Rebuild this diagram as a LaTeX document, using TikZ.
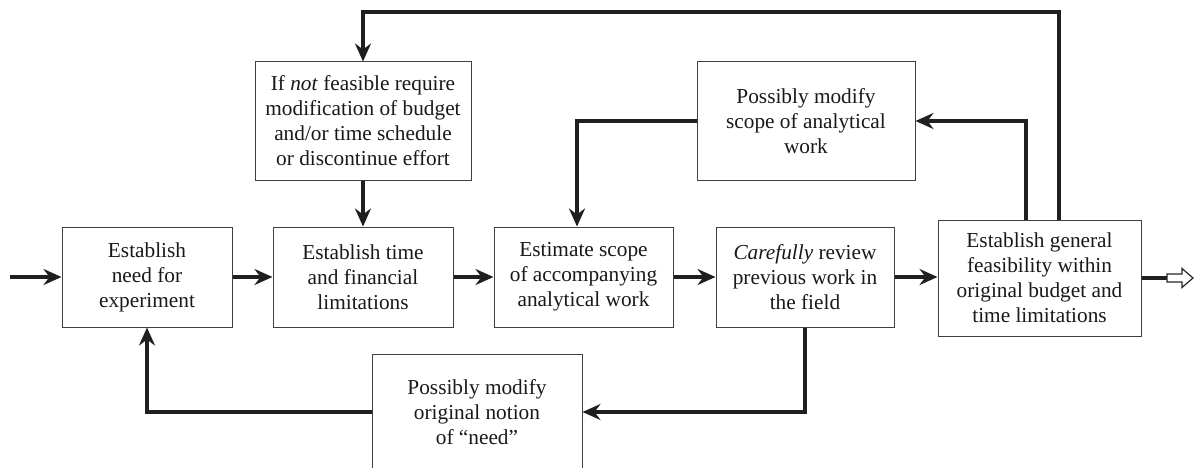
\documentclass[tikz,border=0pt]{standalone}
\usepackage{fontspec}
\setmainfont{Liberation Serif}
\usetikzlibrary{arrows.meta}
\begin{document}
\begin{tikzpicture}[x=1pt,y=-1pt,
  box/.style={draw=black!75,line width=1pt,fill=white,align=center,inner sep=2pt,
    font=\fontsize{21.3}{25}\selectfont,text=black!90},
  arr/.style={line width=3.5pt,draw=black!88,-{Stealth[length=18pt,width=16pt,inset=6pt]}},
  ln/.style={line width=3.5pt,draw=black!88}]
\useasboundingbox (0,0) rectangle (1194,468);
\node[box,minimum width=170pt,minimum height=100pt] (B1) at (147,277) {Establish\\need for\\experiment};
\node[box,minimum width=180pt,minimum height=100pt] (B2) at (363,277) {Establish time\\and financial\\limitations};
\node[box,minimum width=179pt,minimum height=100pt] (B3) at (583.5,277) {Estimate scope\\of accompanying\\analytical work};
\node[box,minimum width=178pt,minimum height=100pt] (B4) at (805,277) {\textit{Carefully} review\\previous work in\\the field};
\node[box,minimum width=203pt,minimum height=116pt] (B5) at (1039.5,278) {Establish general\\feasibility within\\original budget and\\time limitations};
\node[box,minimum width=216pt,minimum height=118pt] (T) at (363,121) {If \textit{not} feasible require\\modification of budget\\and/or time schedule\\or discontinue effort};
\node[box,minimum width=218pt,minimum height=118pt] (S) at (806,121) {Possibly modify\\scope of analytical\\work};
\node[box,minimum width=210pt,minimum height=116pt] (N) at (477,412) {Possibly modify\\original notion\\of ``need''};
\coordinate (in) at (10,277);
\coordinate (t1) at (1059,12);
\coordinate (t3) at (1026,121);
\coordinate (t4) at (577,0);
\coordinate (o1) at (1167,278);
\draw[arr] (in) -- (B1.west);
\draw[arr] (B1.east) -- (B2.west);
\draw[arr] (B2.east) -- (B3.west);
\draw[arr] (B3.east) -- (B4.west);
\draw[arr] (B4.east) -- (B5.west |- B4.east);
\draw[arr] (B5.north -| t1) -- (t1) -| (T.north);
\draw[arr] (T.south) -- (B2.north);
\draw[arr] (B5.north -| t3) -- (t3) -- (S.east);
\draw[arr] (S.west) -| (B3.north -| t4);
\draw[arr] (B4.south) |- (N.east);
\draw[arr] (N.west) -| (B1.south);
\draw[ln] (B5.east) -- (o1);
\draw[line width=1.2pt,draw=black!85,fill=white,line join=miter]
  (o1) ++(0,-4) -- ++(15,0) -- ++(0,-5.5) -- ++(11,9.5) -- ++(-11,9.5) -- ++(0,-5.5) -- ++(-15,0) -- cycle;
\end{tikzpicture}
\end{document}
